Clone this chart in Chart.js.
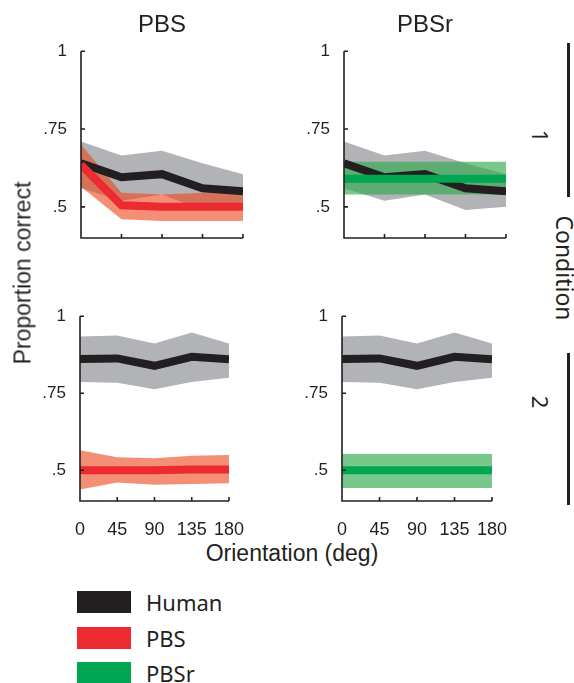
<!DOCTYPE html>
<html>
<head>
<meta charset="utf-8">
<script src="https://cdn.jsdelivr.net/npm/chart.js@4.4.1/dist/chart.umd.min.js"></script>
<style>
  body { margin: 0; background: #fff; }
  #wrap { position: relative; width: 574px; height: 683px; overflow: hidden; background: #fff; color: #231f20; }
  canvas { position: absolute; }
  .t { position: absolute; white-space: nowrap; line-height: 1; }
  .helv { font-family: "Liberation Sans", Arial, sans-serif; }
  .myr { font-family: "Noto Sans", sans-serif; }
  .vline { position: absolute; width: 3px; background: #231f20; }
  .swatch { position: absolute; width: 54px; height: 22px; }
</style>
</head>
<body>
<div id="wrap">
  <canvas id="c1"></canvas>
  <canvas id="c2"></canvas>
  <canvas id="c3"></canvas>
  <canvas id="c4"></canvas>

  <div class="t helv" style="left:162px; top:24px; font-size:24px; transform:translate(-50%,-50%);">PBS</div>
  <div class="t helv" style="left:425px; top:24px; font-size:24px; transform:translate(-50%,-50%);">PBSr</div>
  <div class="t helv" style="left:23px; top:273px; font-size:23px; transform:translate(-50%,-50%) rotate(-90deg);">Proportion correct</div>
  <div class="t helv" style="left:292px; top:553px; font-size:23px; transform:translate(-50%,-50%);">Orientation (deg)</div>

  <div class="vline" style="left:567px; top:43px; height:154px;"></div>
  <div class="vline" style="left:567px; top:353px; height:152px;"></div>
  <div class="t myr" style="left:541px; top:136px; font-size:22px; transform:translate(-50%,-50%) rotate(90deg);">1</div>
  <div class="t myr" style="left:541px; top:402px; font-size:22px; transform:translate(-50%,-50%) rotate(90deg);">2</div>
  <div class="t myr" style="left:564px; top:268px; font-size:23px; transform:translate(-50%,-50%) rotate(90deg);">Condition</div>

  <div id="legend"></div>
</div>

<script>
// orientation values on the x axis
const orientations = [0, 45, 90, 135, 180];
const yTicks = [0.5, 0.75, 1];
const yTickLabels = ['.5', '.75', '1'];

// condition 1
const human1 = [0.64, 0.595, 0.605, 0.56, 0.55];
const human1Hi = [0.71, 0.665, 0.68, 0.64, 0.605];
const human1Lo = [0.56, 0.52, 0.54, 0.49, 0.50];
const pbs1 = [0.635, 0.505, 0.50, 0.50, 0.50];
const pbs1Hi = [0.70, 0.545, 0.54, 0.545, 0.545];
const pbs1Lo = [0.565, 0.46, 0.455, 0.455, 0.455];
const pbsr1 = [0.59, 0.59, 0.59, 0.59, 0.59];
const pbsr1Hi = [0.645, 0.645, 0.645, 0.645, 0.645];
const pbsr1Lo = [0.54, 0.54, 0.54, 0.54, 0.54];

// condition 2
const human2 = [0.861, 0.863, 0.839, 0.868, 0.86];
const human2Hi = [0.934, 0.937, 0.911, 0.947, 0.911];
const human2Lo = [0.786, 0.784, 0.763, 0.786, 0.80];
const pbs2 = [0.50, 0.50, 0.50, 0.502, 0.502];
const pbs2Hi = [0.565, 0.542, 0.539, 0.547, 0.549];
const pbs2Lo = [0.437, 0.46, 0.453, 0.455, 0.458];
const pbsr2 = [0.50, 0.50, 0.50, 0.50, 0.50];
const pbsr2Hi = [0.553, 0.553, 0.553, 0.553, 0.553];
const pbsr2Lo = [0.442, 0.442, 0.442, 0.442, 0.442];

const legendNames = ['Human', 'PBS', 'PBSr'];

const styles = {
    Human: { line: '#231f20', band: 'rgb(177, 179, 182)' },
    PBS: { line: '#ec2a31', band: 'rgba(238, 72, 32, 0.62)' },
    PBSr: { line: '#00a651', band: 'rgba(48, 171, 78, 0.65)' }
};

// draws MATLAB style axes with inward ticks on top of the data
const axesPlugin = {
    id: 'inwardAxes',
    afterDatasetsDraw(chart) {
        const ctx = chart.ctx;
        const a = chart.chartArea;
        const x = chart.scales.x, y = chart.scales.y;
        ctx.save();
        ctx.strokeStyle = '#231f20';
        ctx.lineWidth = 1.6;
        ctx.beginPath();
        ctx.moveTo(a.left, a.top);
        ctx.lineTo(a.left, a.bottom);
        ctx.lineTo(a.right, a.bottom);
        y.ticks.forEach(t => {
            const py = y.getPixelForValue(t.value);
            ctx.moveTo(a.left, py);
            ctx.lineTo(a.left + 4, py);
        });
        x.ticks.forEach(t => {
            const px = x.getPixelForValue(t.value);
            ctx.moveTo(px, a.bottom);
            ctx.lineTo(px, a.bottom - 4);
        });
        ctx.stroke();
        ctx.restore();
    }
};

function pts(vals) {
    return vals.map((v, i) => ({ x: orientations[i], y: v }));
}

function buildDatasets(series) {
    const out = [];
    series.forEach(s => {
        const st = styles[s.name];
        out.push({ data: pts(s.hi), fill: '+1', backgroundColor: st.band, borderWidth: 0, pointRadius: 0, order: s.bandOrder, clip: 0 });
        out.push({ data: pts(s.lo), fill: false, borderWidth: 0, pointRadius: 0, order: s.bandOrder, clip: 0 });
    });
    series.forEach(s => {
        const st = styles[s.name];
        out.push({ data: pts(s.mid), fill: false, borderColor: st.line, borderWidth: 8, borderJoinStyle: 'miter',
            borderCapStyle: 'butt', pointRadius: 0, tension: 0, order: s.lineOrder, clip: 0 });
    });
    return out;
}

const Y_AXIS_W = 50, X_AXIS_H = 35, PAD = 12;

function makePanel(id, box, series, showX) {
    const cv = document.getElementById(id);
    const w = Y_AXIS_W + (box.r - box.l) + PAD;
    const h = PAD + (box.b - box.t) + X_AXIS_H;
    cv.width = w; cv.height = h;
    cv.style.width = w + 'px'; cv.style.height = h + 'px';
    cv.style.left = (box.l - Y_AXIS_W) + 'px';
    cv.style.top = (box.t - PAD) + 'px';

    return new Chart(cv.getContext('2d'), {
        type: 'line',
        data: { datasets: buildDatasets(series) },
        options: {
            responsive: false,
            animation: false,
            layout: { autoPadding: false, padding: { top: PAD, right: PAD, left: 0, bottom: 0 } },
            plugins: { legend: { display: false }, tooltip: { enabled: false },
                filler: { propagate: false } },
            scales: {
                x: {
                    type: 'linear', min: 0, max: 180,
                    afterBuildTicks: sc => { sc.ticks = orientations.map(v => ({ value: v })); },
                    afterFit: sc => { sc.height = X_AXIS_H; },
                    grid: { display: false }, border: { display: false },
                    ticks: { display: showX, padding: 10, maxRotation: 0, autoSkip: false, color: '#231f20',
                        font: { family: 'Liberation Sans', size: 18 } }
                },
                y: {
                    min: 0.4, max: 1,
                    afterBuildTicks: sc => { sc.ticks = yTicks.map(v => ({ value: v })); },
                    afterFit: sc => { sc.width = Y_AXIS_W; },
                    grid: { display: false }, border: { display: false },
                    ticks: { padding: 6, color: '#231f20', font: { family: 'Liberation Sans', size: 17 },
                        callback: (v) => yTickLabels[yTicks.indexOf(v)] }
                }
            }
        },
        plugins: [axesPlugin]
    });
}

makePanel('c1', { l: 81, t: 47, r: 243, b: 238 }, [
    { name: 'Human', mid: human1, hi: human1Hi, lo: human1Lo, bandOrder: 6, lineOrder: 2 },
    { name: 'PBS', mid: pbs1, hi: pbs1Hi, lo: pbs1Lo, bandOrder: 5, lineOrder: 1 }
], false);

makePanel('c2', { l: 344, t: 47, r: 506, b: 238 }, [
    { name: 'Human', mid: human1, hi: human1Hi, lo: human1Lo, bandOrder: 6, lineOrder: 2 },
    { name: 'PBSr', mid: pbsr1, hi: pbsr1Hi, lo: pbsr1Lo, bandOrder: 5, lineOrder: 1 }
], false);

makePanel('c3', { l: 80, t: 312, r: 242, b: 501 }, [
    { name: 'Human', mid: human2, hi: human2Hi, lo: human2Lo, bandOrder: 6, lineOrder: 2 },
    { name: 'PBS', mid: pbs2, hi: pbs2Hi, lo: pbs2Lo, bandOrder: 5, lineOrder: 1 }
], true);

makePanel('c4', { l: 342, t: 312, r: 505, b: 501 }, [
    { name: 'Human', mid: human2, hi: human2Hi, lo: human2Lo, bandOrder: 6, lineOrder: 2 },
    { name: 'PBSr', mid: pbsr2, hi: pbsr2Hi, lo: pbsr2Lo, bandOrder: 5, lineOrder: 1 }
], true);

// legend below the panels
const legend = document.getElementById('legend');
legendNames.forEach((name, i) => {
    const top = 591 + i * 35.5;
    const sw = document.createElement('div');
    sw.className = 'swatch';
    sw.style.left = '77px';
    sw.style.top = top + 'px';
    sw.style.background = styles[name].line;
    legend.appendChild(sw);
    const tx = document.createElement('div');
    tx.className = 't myr';
    tx.style.left = '146px';
    tx.style.top = (top + 11) + 'px';
    tx.style.fontSize = '22px';
    tx.style.transform = 'translateY(-50%)';
    tx.textContent = name;
    legend.appendChild(tx);
});
</script>
</body>
</html>
